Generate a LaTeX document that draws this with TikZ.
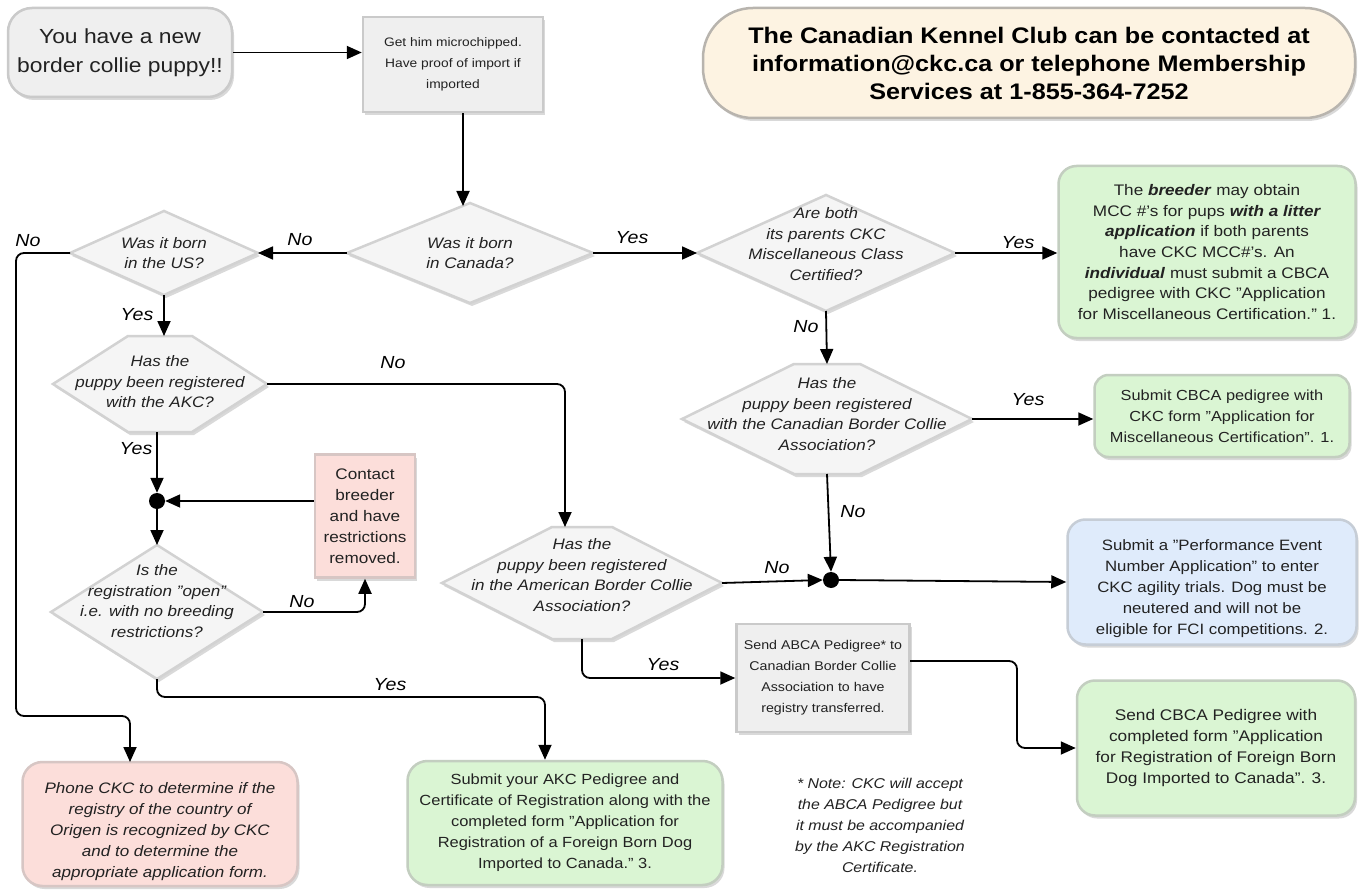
\documentclass[tikz,border=0pt]{standalone}
\usepackage{fontspec}
\setmainfont{Liberation Sans}[FakeStretch=1.12]
\usetikzlibrary{arrows.meta,shadows}
\definecolor{txt}{HTML}{222222}
\definecolor{boxfill}{HTML}{EFEFEF}
\definecolor{boxdraw}{HTML}{CACACA}
\definecolor{diafill}{HTML}{F5F5F5}
\definecolor{diadraw}{HTML}{D2D2D2}
\definecolor{greenfill}{HTML}{DAF5D3}
\definecolor{greendraw}{HTML}{C3CEC0}
\definecolor{pinkfill}{HTML}{FCDEDA}
\definecolor{pinkdraw}{HTML}{D7C6C4}
\definecolor{bluefill}{HTML}{DFEBFB}
\definecolor{bluedraw}{HTML}{C6CDD6}
\definecolor{creamfill}{HTML}{FDF3E2}
\definecolor{creamdraw}{HTML}{B8B4AE}
% name, cx, cy, half width, half height, text y, text
\newcommand{\mydia}[7]{%
 \coordinate (#1-l) at (#2-#4,#3);
 \coordinate (#1-r) at (#2+#4,#3);
 \coordinate (#1-t) at (#2,#3-#5);
 \coordinate (#1-b) at (#2,#3+#5);
 \draw[diashape] (#1-l) -- (#1-t) -- (#1-r) -- (#1-b) -- cycle;
 \node[diatext] (#1) at (#2,#6) {#7};
}
% name, cx, cy, half width, half height, half flat, text y, text
\newcommand{\myhex}[8]{%
 \coordinate (#1-l) at (#2-#4,#3);
 \coordinate (#1-r) at (#2+#4,#3);
 \coordinate (#1-t) at (#2,#3-#5);
 \coordinate (#1-b) at (#2,#3+#5);
 \draw[diashape] (#1-l) -- (#2-#6,#3-#5) -- (#2+#6,#3-#5) -- (#1-r) -- (#2+#6,#3+#5) -- (#2-#6,#3+#5) -- cycle;
 \node[diatext] (#1) at (#2,#7) {#8};
}
\tikzset{
 shadowed/.style={drop shadow={shadow xshift=2pt,shadow yshift=-3pt,opacity=0.15,fill=black}},
 basebox/.style={shadowed, line width=2.5pt, align=center, inner sep=3pt, text=txt,
   font=\fontsize{14}{21}\selectfont},
 graybox/.style={basebox, draw=boxdraw, fill=boxfill},
 greenbox/.style={basebox, draw=greendraw, fill=greenfill, rounded corners=18pt},
 pinkbox/.style={basebox, draw=pinkdraw, fill=pinkfill},
 bluebox/.style={basebox, draw=bluedraw, fill=bluefill, rounded corners=18pt},
 diashape/.style={shadowed, draw=diadraw, fill=diafill, line width=2.5pt},
 diatext/.style={align=center, text=txt, inner sep=0pt, font=\fontsize{15.2}{20.5}\selectfont\itshape},
 arr/.style={line width=1.8pt, -{Triangle[length=15pt,width=13pt]}, rounded corners=8pt},
 lbl/.style={font=\fontsize{17.5}{18}\selectfont\itshape, inner sep=0pt, text=black},
 junction/.style={circle, fill=black, minimum size=16pt, inner sep=0pt},
}
\begin{document}
\begin{tikzpicture}[x=1pt,y=-1pt]
\fill[white] (0,0) rectangle (1363,896);
\useasboundingbox (0,0) rectangle (1363,896);

% boxes
\node[graybox, rounded corners=24pt, minimum width=224pt, minimum height=89pt,
  font=\fontsize{20.4}{29}\selectfont] (start) at (120,52.5) {You have a new\\border collie puppy!!};
\node[graybox, minimum width=180pt, minimum height=95pt, font=\fontsize{12.3}{21}\selectfont] (chip) at (453,64.5)
  {Get him microchipped.\\Have proof of import if\\imported};
\node[basebox, draw=creamdraw, fill=creamfill, rounded corners=50pt, minimum width=652pt, minimum height=110pt,
  font=\fontsize{22.5}{28}\selectfont\bfseries, text=black] (ckc) at (1029,63)
  {The Canadian Kennel Club can be contacted at\\information@ckc.ca or telephone Membership\\Services at 1-855-364-7252};
\node[greenbox, minimum width=297pt, minimum height=172pt, font=\fontsize{15.3}{20.6}\selectfont] (breeder) at (1207,252)
  {The \textbf{\textit{breeder}} may obtain\\MCC \#'s for pups \textbf{\textit{with a litter}}\\\textbf{\textit{application}} if both parents\\have CKC MCC\#'s. An\\\textbf{\textit{individual}} must submit a CBCA\\pedigree with CKC "Application\\for Miscellaneous Certification." 1.};
\node[greenbox, rounded corners=14pt, minimum width=255pt, minimum height=82pt, font=\fontsize{14.6}{21}\selectfont] (subcbca) at (1222,416)
  {Submit CBCA pedigree with\\CKC form "Application for\\Miscellaneous Certification". 1.};
\node[bluebox, minimum width=289pt, minimum height=125pt, font=\fontsize{15}{21}\selectfont] (perf) at (1212,582)
  {\rule{0pt}{24pt}Submit a "Performance Event\\Number Application" to enter\\CKC agility trials.  Dog must be\\neutered and will not be\\eligible for FCI competitions. 2.};
\node[graybox, minimum width=173pt, minimum height=108pt, font=\fontsize{12.7}{21}\selectfont] (abcabox) at (823,678)
  {Send ABCA Pedigree* to\\Canadian Border Collie\\Association to have\\registry transferred.};
\node[greenbox, minimum width=278pt, minimum height=135pt, font=\fontsize{15.4}{21}\selectfont] (cbcaped) at (1216,748)
  {Send CBCA Pedigree with\\completed form "Application\\for Registration of Foreign Born\\Dog Imported to Canada". 3.};
\node[pinkbox, rounded corners=20pt, minimum width=275pt, minimum height=124pt, font=\fontsize{15.2}{21}\selectfont\itshape] (phone) at (160,824)
  {\rule{0pt}{26pt}Phone CKC to determine if the\\registry of the country of\\Origen is recognized by CKC\\and to determine the\\appropriate application form.};
\node[greenbox, rounded corners=20pt, minimum width=315pt, minimum height=124pt, font=\fontsize{14.7}{21}\selectfont] (subakc) at (565,823)
  {Submit your AKC Pedigree and\\Certificate of Registration along with the\\completed form "Application for\\Registration of a Foreign Born Dog\\Imported to Canada."  3.};
\node[pinkbox, minimum width=100pt, minimum height=123pt, font=\fontsize{15.3}{21}\selectfont] (contact) at (365,516)
  {Contact\\breeder\\and have\\restrictions\\removed.};
\node[align=center, text=txt, font=\fontsize{14.2}{21}\selectfont\itshape] (note) at (880,825)
  {* Note: CKC will accept\\the ABCA Pedigree but\\it must be accompanied\\by the AKC Registration\\Certificate.};

% decisions
\mydia{can}{470}{253}{123}{50}{253}{Was it born\\in Canada?}
\mydia{us}{164}{253}{94}{42}{253}{Was it born\\in the US?}
\mydia{par}{826}{253}{129}{58}{244}{Are both\\its parents CKC\\Miscellaneous Class\\Certified?}
\mydia{open}{157}{612}{106}{67}{601}{Is the\\registration "open"\\i.e. with no breeding\\restrictions?}
\myhex{akc}{160}{384}{107}{48}{32}{382}{Has the\\puppy been registered\\with the AKC?}
\myhex{cbca}{827}{419}{145}{55}{33}{414}{Has the\\puppy been registered\\with the Canadian Border Collie\\Association?}
\myhex{abca}{582}{583}{140}{56}{30}{575}{Has the\\puppy been registered\\in the American Border Collie\\Association?}

% junctions
\node[junction] (j1) at (157,501) {};
\node[junction] (j2) at (831,580) {};

% helper coordinates
\coordinate (k0) at (463,206);
\coordinate (k1) at (16,716);
\coordinate (k2) at (130,762);
\coordinate (k3) at (545,697);
\coordinate (k4) at (565,527);
\coordinate (k5) at (910,661);
\coordinate (k6) at (1017,705);

% connectors
\draw[arr] (start.east) -- (start.east -| chip.west);
\draw[arr] (k0 |- chip.south) -- (k0);
\draw[arr] (can-l) -- (us-r);
\draw[arr] (us-l) -| (k1) -| (k2);
\draw[arr] (us-b) -- (us-b |- akc-t);
\draw[arr] (akc-b -| j1) -- (j1.north);
\draw[arr] (contact.west |- j1) -- (j1.east);
\draw[arr] (j1.south) -- (open-t);
\draw[arr] (open-r) -| (contact.south);
\draw[arr] (open-b) |- (k3) -- (k3 |- subakc.north);
\draw[arr] (akc-r) -| (k4);
\draw[arr] (can-r) -- (par-l);
\draw[arr] (par-r) -- (par-r -| breeder.west);
\draw[arr] (par-b) -- (cbca-t);
\draw[arr] (cbca-r) -- (cbca-r -| subcbca.west);
\draw[arr] (cbca-b) -- (j2.north);
\draw[arr] (abca-r) -- (j2.west);
\draw[arr] (j2.east) -- (perf.west);
\draw[arr] (abca-b) |- (abcabox.west);
\draw[arr] (k5) -| (k6) |- (cbcaped.west);

% labels
\node[lbl] (lno1) at (300,240) {No};
\node[lbl] (lno2) at (28,241) {No};
\node[lbl] (lyes1) at (137,315) {Yes};
\node[lbl] (lno3) at (393,363) {No};
\node[lbl] (lyes2) at (136,449) {Yes};
\node[lbl] (lno4) at (302,602) {No};
\node[lbl] (lyes3) at (390,685) {Yes};
\node[lbl] (lyes4) at (632,238) {Yes};
\node[lbl] (lyes5) at (1018,243) {Yes};
\node[lbl] (lno5) at (806,327) {No};
\node[lbl] (lyes6) at (1028,400) {Yes};
\node[lbl] (lno6) at (853,512) {No};
\node[lbl] (lno7) at (777,568) {No};
\node[lbl] (lyes7) at (663,665) {Yes};
\end{tikzpicture}
\end{document}
